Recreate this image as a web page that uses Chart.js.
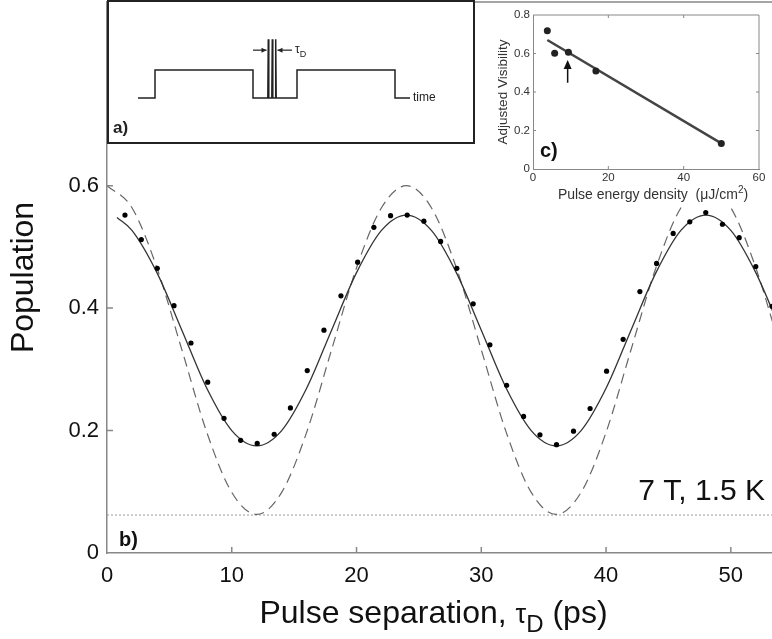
<!DOCTYPE html>
<html>
<head>
<meta charset="utf-8">
<script src="https://cdn.jsdelivr.net/npm/chart.js@4"></script>
<style>
  html, body { margin: 0; padding: 0; background: #fff; }
  #wrap { position: relative; width: 772px; height: 639px; overflow: hidden; }
  #main { position: absolute; left: 0; top: 0; }
  #boxA { position: absolute; left: 107px; top: 0; width: 368px; height: 144px;
          border: 2px solid #222; box-sizing: border-box; background: #fff; }
  #insetA { position: absolute; left: 0; top: 0; }
  #insetC { position: absolute; left: 480px; top: 4px; background: #fff; }
</style>
</head>
<body>
<div id="wrap">
  <canvas id="main" width="772" height="639"></canvas>
  <div id="boxA"><canvas id="insetA" width="364" height="140"></canvas></div>
  <canvas id="insetC" width="292" height="201"></canvas>
</div>
<script>
// panel b) measured population vs pulse separation (ps)
const sepPs = [1.44, 2.75, 4.03, 5.37, 6.73, 8.07, 9.38, 10.71, 12.04, 13.4,
  14.7, 16.05, 17.39, 18.75, 20.09, 21.39, 22.73, 24.06, 25.4, 26.74,
  28.04, 29.35, 30.69, 32.03, 33.39, 34.7, 36.03, 37.39, 38.72, 40.04,
  41.37, 42.71, 44.05, 45.38, 46.71, 47.99, 49.33, 50.67, 52.0, 53.3];
const population = [0.552, 0.512, 0.465, 0.404, 0.343, 0.279, 0.220, 0.184, 0.179, 0.194,
  0.237, 0.298, 0.364, 0.420, 0.475, 0.532, 0.551, 0.552, 0.542, 0.509,
  0.465, 0.407, 0.340, 0.274, 0.223, 0.193, 0.177, 0.199, 0.236, 0.297,
  0.349, 0.427, 0.473, 0.522, 0.541, 0.556, 0.537, 0.515, 0.468, 0.403];

// solid fit curve
const solidPs = [0.8, 2, 4, 6, 8, 10, 12, 14, 16, 18, 20, 22, 24, 26, 28,
  30, 32, 34, 36, 38, 40, 42, 44, 46, 48, 50, 52, 54];
const solidFit = [0.548, 0.527, 0.458, 0.364, 0.269, 0.200, 0.175, 0.200, 0.269, 0.364, 0.458, 0.527, 0.552, 0.527, 0.458,
  0.364, 0.269, 0.200, 0.175, 0.200, 0.269, 0.364, 0.458, 0.527, 0.552, 0.527, 0.458, 0.364];

// dashed curve (full contrast)
const dashedPs = [0, 2, 4, 6, 8, 10, 12, 14, 16, 18, 20, 22, 24, 26,
  28, 30, 32, 34, 36, 38, 40, 42, 44, 46, 48, 50, 52, 54];
const dashedFit = [0.600, 0.564, 0.466, 0.332, 0.197, 0.099, 0.063, 0.099, 0.197, 0.332, 0.466, 0.564, 0.600, 0.564,
  0.466, 0.332, 0.197, 0.099, 0.063, 0.099, 0.197, 0.332, 0.466, 0.564, 0.600, 0.564, 0.466, 0.332];

const floorLevel = 0.062;
const xTicks = [0, 10, 20, 30, 40, 50];
const yTicks = [0, 0.2, 0.4, 0.6];
const X_MIN = 0, X_MAX = 53.3, Y_MIN = 0, Y_MAX = 0.9;

// panel c) adjusted visibility vs pulse energy density
const energy = [3.8, 5.75, 9.4, 16.7, 50.0];
const visibility = [0.718, 0.601, 0.606, 0.509, 0.133];
const fitEnergy = [3.8, 50.0];
const fitVisibility = [0.670, 0.133];
const arrowEnergy = 9.2;
const arrowFrom = 0.448, arrowTo = 0.566;
const energyTicks = [0, 20, 40, 60];
const visTicks = [0, 0.2, 0.4, 0.6, 0.8];

// panel a) pulse sequence sketch (arbitrary time units / amplitude)
const sketchT = [0, 1.7, 1.7, 11.5, 11.5, 12.98, 13.03, 13.08, 13.38, 13.43, 13.48,
  13.72, 13.77, 13.82, 15.9, 15.9, 25.7, 25.7, 27.2];
const sketchLevel = [0, 0, 1, 1, 0, 0, 2.1, 0, 0, 2.1, 0, 0, 2.1, 0, 0, 1, 1, 0, 0];
const tauLeft = [11.5, 12.85];
const tauRight = [15.4, 13.95];
const tauLevel = 1.71;

const FONT = '"Liberation Sans", Arial, Helvetica, sans-serif';
const pts = (xs, ys) => xs.map((x, i) => ({x, y: ys[i]}));

function arrowHead(ctx, x, y, dx, dy, len, half) {
  ctx.beginPath();
  ctx.moveTo(x, y);
  ctx.lineTo(x - dx * len - dy * half, y - dy * len + dx * half);
  ctx.lineTo(x - dx * len + dy * half, y - dy * len - dx * half);
  ctx.closePath();
  ctx.fill();
}

const mainDecor = {
  id: 'mainDecor',
  afterDraw(chart) {
    const {ctx, chartArea: a, scales: {x, y}} = chart;
    ctx.save();
    ctx.strokeStyle = '#888';
    ctx.lineWidth = 1.5;
    ctx.beginPath();
    ctx.moveTo(a.left, a.top); ctx.lineTo(a.right, a.top);
    xTicks.filter(v => v > 0).forEach(v => {
      const px = x.getPixelForValue(v);
      ctx.moveTo(px, a.bottom); ctx.lineTo(px, a.bottom - 6);
    });
    yTicks.filter(v => v > 0).forEach(v => {
      const py = y.getPixelForValue(v);
      ctx.moveTo(a.left, py); ctx.lineTo(a.left + 6, py);
    });
    ctx.stroke();

    ctx.fillStyle = '#111';
    ctx.textBaseline = 'alphabetic';
    ctx.font = '30px ' + FONT;
    ctx.textAlign = 'right';
    ctx.fillText('7 T, 1.5 K', a.right - 7, a.bottom - 53);
    ctx.font = 'bold 20px ' + FONT;
    ctx.textAlign = 'left';
    ctx.fillText('b)', a.left + 12, a.bottom - 7);

    // x title with subscript
    const parts = [['Pulse separation, ', 32, 0], ['\u03C4', 27, 0], ['D', 24, 9], [' (ps)', 32, 0]];
    let w = 0;
    parts.forEach(p => { ctx.font = p[1] + 'px ' + FONT; w += ctx.measureText(p[0]).width; });
    let cx = (a.left + a.right) / 2 - 6 - w / 2;
    const base = a.bottom + 70;
    parts.forEach(p => {
      ctx.font = p[1] + 'px ' + FONT;
      ctx.fillText(p[0], cx, base + p[2]);
      cx += ctx.measureText(p[0]).width;
    });
    ctx.restore();
  }
};

new Chart(document.getElementById('main'), {
  type: 'scatter',
  data: {
    datasets: [
      { label: 'Measured', data: pts(sepPs, population), pointRadius: 2.6,
        backgroundColor: '#000', borderWidth: 0, showLine: false },
      { label: 'Fit', data: pts(solidPs, solidFit), showLine: true, pointRadius: 0,
        borderColor: '#333', borderWidth: 1.3, cubicInterpolationMode: 'monotone' },
      { label: 'Full contrast', data: pts(dashedPs, dashedFit), showLine: true, pointRadius: 0,
        borderColor: '#666', borderWidth: 1.2, borderDash: [10, 6], cubicInterpolationMode: 'monotone' },
      { label: 'Floor', data: [{x: X_MIN, y: floorLevel}, {x: X_MAX, y: floorLevel}], showLine: true,
        pointRadius: 0, borderColor: '#999', borderWidth: 1, borderDash: [2, 2] }
    ]
  },
  options: {
    responsive: false,
    animation: false,
    layout: { autoPadding: false, padding: { top: 2, left: 0, right: 0, bottom: 0 } },
    plugins: { legend: { display: false }, tooltip: { enabled: false } },
    scales: {
      x: {
        type: 'linear', min: X_MIN, max: X_MAX,
        afterBuildTicks: s => { s.ticks = xTicks.map(v => ({value: v})); },
        afterFit: s => { s.height = 86; s.paddingLeft = 0; s.paddingRight = 0; },
        grid: { display: false, drawTicks: false },
        border: { color: '#888', width: 1.5 },
        ticks: { font: { family: FONT, size: 22 }, color: '#111', padding: 10, maxRotation: 0 }
      },
      y: {
        type: 'linear', min: Y_MIN, max: Y_MAX,
        afterBuildTicks: s => { s.ticks = yTicks.map(v => ({value: v})); },
        afterFit: s => { s.width = 107; s.paddingTop = 0; s.paddingBottom = 0; },
        grid: { display: false, drawTicks: false },
        border: { color: '#888', width: 1.5 },
        ticks: { font: { family: FONT, size: 22 }, color: '#111', padding: 8,
                 callback: v => v === 0 ? '0' : v.toFixed(1) },
        title: { display: true, text: 'Population', color: '#111',
                 font: { family: FONT, size: 32, lineHeight: 1.2 }, padding: { top: 5, bottom: 0 } }
      }
    }
  },
  plugins: [mainDecor]
});

// inset a)
const sketchDecor = {
  id: 'sketchDecor',
  afterDraw(chart) {
    const {ctx, scales: {x, y}} = chart;
    const ty = y.getPixelForValue(tauLevel);
    ctx.save();
    ctx.strokeStyle = '#222';
    ctx.fillStyle = '#222';
    ctx.lineWidth = 1.2;
    [tauLeft, tauRight].forEach(seg => {
      const x0 = x.getPixelForValue(seg[0]), x1 = x.getPixelForValue(seg[1]);
      ctx.beginPath(); ctx.moveTo(x0, ty); ctx.lineTo(x1, ty); ctx.stroke();
      arrowHead(ctx, x1, ty, Math.sign(x1 - x0), 0, 5, 2.5);
    });
    ctx.textBaseline = 'middle';
    ctx.textAlign = 'left';
    let tx = x.getPixelForValue(15.7);
    ctx.font = '12px ' + FONT;
    ctx.fillText('\u03C4', tx, ty);
    tx += ctx.measureText('\u03C4').width;
    ctx.font = '9px ' + FONT;
    ctx.fillText('D', tx, ty + 4);
    ctx.font = '12px ' + FONT;
    ctx.fillText('time', x.getPixelForValue(27.5), y.getPixelForValue(0));
    ctx.textBaseline = 'alphabetic';
    ctx.font = 'bold 17px ' + FONT;
    ctx.fillText('a)', 4, chart.height - 9);
    ctx.restore();
  }
};

new Chart(document.getElementById('insetA'), {
  type: 'scatter',
  data: {
    datasets: [{ data: pts(sketchT, sketchLevel), showLine: true, pointRadius: 0,
                 borderColor: '#222', borderWidth: 1.5, borderJoinStyle: 'miter' }]
  },
  options: {
    responsive: false,
    animation: false,
    layout: { autoPadding: false, padding: 0 },
    plugins: { legend: { display: false }, tooltip: { enabled: false } },
    scales: {
      x: { type: 'linear', display: false, min: -2.9, max: 33.5 },
      y: { type: 'linear', display: false, min: -1.571, max: 3.43 }
    }
  },
  plugins: [sketchDecor]
});

// inset c)
const visDecor = {
  id: 'visDecor',
  afterDraw(chart) {
    const {ctx, chartArea: a, scales: {x, y}} = chart;
    ctx.save();
    ctx.strokeStyle = '#888';
    ctx.lineWidth = 1;
    ctx.beginPath();
    ctx.moveTo(a.left, a.top); ctx.lineTo(a.right, a.top); ctx.lineTo(a.right, a.bottom);
    energyTicks.slice(1, -1).forEach(v => {
      const px = x.getPixelForValue(v);
      ctx.moveTo(px, a.bottom); ctx.lineTo(px, a.bottom - 3);
      ctx.moveTo(px, a.top); ctx.lineTo(px, a.top + 3);
    });
    visTicks.slice(1, -1).forEach(v => {
      const py = y.getPixelForValue(v);
      ctx.moveTo(a.left, py); ctx.lineTo(a.left + 3, py);
      ctx.moveTo(a.right, py); ctx.lineTo(a.right - 3, py);
    });
    ctx.stroke();

    // arrow pointing at the data point used in b)
    const ax = x.getPixelForValue(arrowEnergy);
    const y0 = y.getPixelForValue(arrowFrom), y1 = y.getPixelForValue(arrowTo);
    ctx.strokeStyle = '#111';
    ctx.fillStyle = '#111';
    ctx.lineWidth = 1.5;
    ctx.beginPath(); ctx.moveTo(ax, y0); ctx.lineTo(ax, y1 + 6); ctx.stroke();
    arrowHead(ctx, ax, y1, 0, -1, 9, 4);

    ctx.font = 'bold 20px ' + FONT;
    ctx.textAlign = 'left';
    ctx.textBaseline = 'alphabetic';
    ctx.fillText('c)', a.left + 7, a.bottom - 12);

    // x title with superscript
    ctx.fillStyle = '#333';
    const parts = [['Pulse energy density  (\u03BCJ/cm', 14, 0], ['2', 10, -6], [')', 14, 0]];
    let w = 0;
    parts.forEach(p => { ctx.font = p[1] + 'px ' + FONT; w += ctx.measureText(p[0]).width; });
    let cx = 173 - w / 2;
    const base = a.bottom + 30;
    parts.forEach(p => {
      ctx.font = p[1] + 'px ' + FONT;
      ctx.fillText(p[0], cx, base + p[2]);
      cx += ctx.measureText(p[0]).width;
    });
    ctx.restore();
  }
};

new Chart(document.getElementById('insetC'), {
  type: 'scatter',
  data: {
    datasets: [
      { data: pts(energy, visibility), pointRadius: 3.5, backgroundColor: '#222', borderWidth: 0 },
      { data: pts(fitEnergy, fitVisibility), showLine: true, pointRadius: 0,
        borderColor: '#444', borderWidth: 2.5 }
    ]
  },
  options: {
    responsive: false,
    animation: false,
    layout: { autoPadding: false, padding: { top: 11, right: 13, left: 0, bottom: 0 } },
    plugins: { legend: { display: false }, tooltip: { enabled: false } },
    scales: {
      x: {
        type: 'linear', min: 0, max: 60,
        afterBuildTicks: s => { s.ticks = energyTicks.map(v => ({value: v})); },
        afterFit: s => { s.height = 36; s.paddingLeft = 0; s.paddingRight = 0; },
        grid: { display: false, drawTicks: false },
        border: { color: '#888', width: 1 },
        ticks: { font: { family: FONT, size: 11.5 }, color: '#333', padding: 2, maxRotation: 0 }
      },
      y: {
        type: 'linear', min: 0, max: 0.8,
        afterBuildTicks: s => { s.ticks = visTicks.map(v => ({value: v})); },
        afterFit: s => { s.width = 53; s.paddingTop = 0; s.paddingBottom = 0; },
        grid: { display: false, drawTicks: false },
        border: { color: '#888', width: 1 },
        ticks: { font: { family: FONT, size: 11.5 }, color: '#333', padding: 3,
                 callback: v => v === 0 ? '0' : v.toFixed(1) },
        title: { display: true, text: 'Adjusted Visibility', color: '#333',
                 font: { family: FONT, size: 13.5, lineHeight: 1.2 }, padding: { top: 15, bottom: 0 } }
      }
    }
  },
  plugins: [visDecor]
});
</script>
</body>
</html>
